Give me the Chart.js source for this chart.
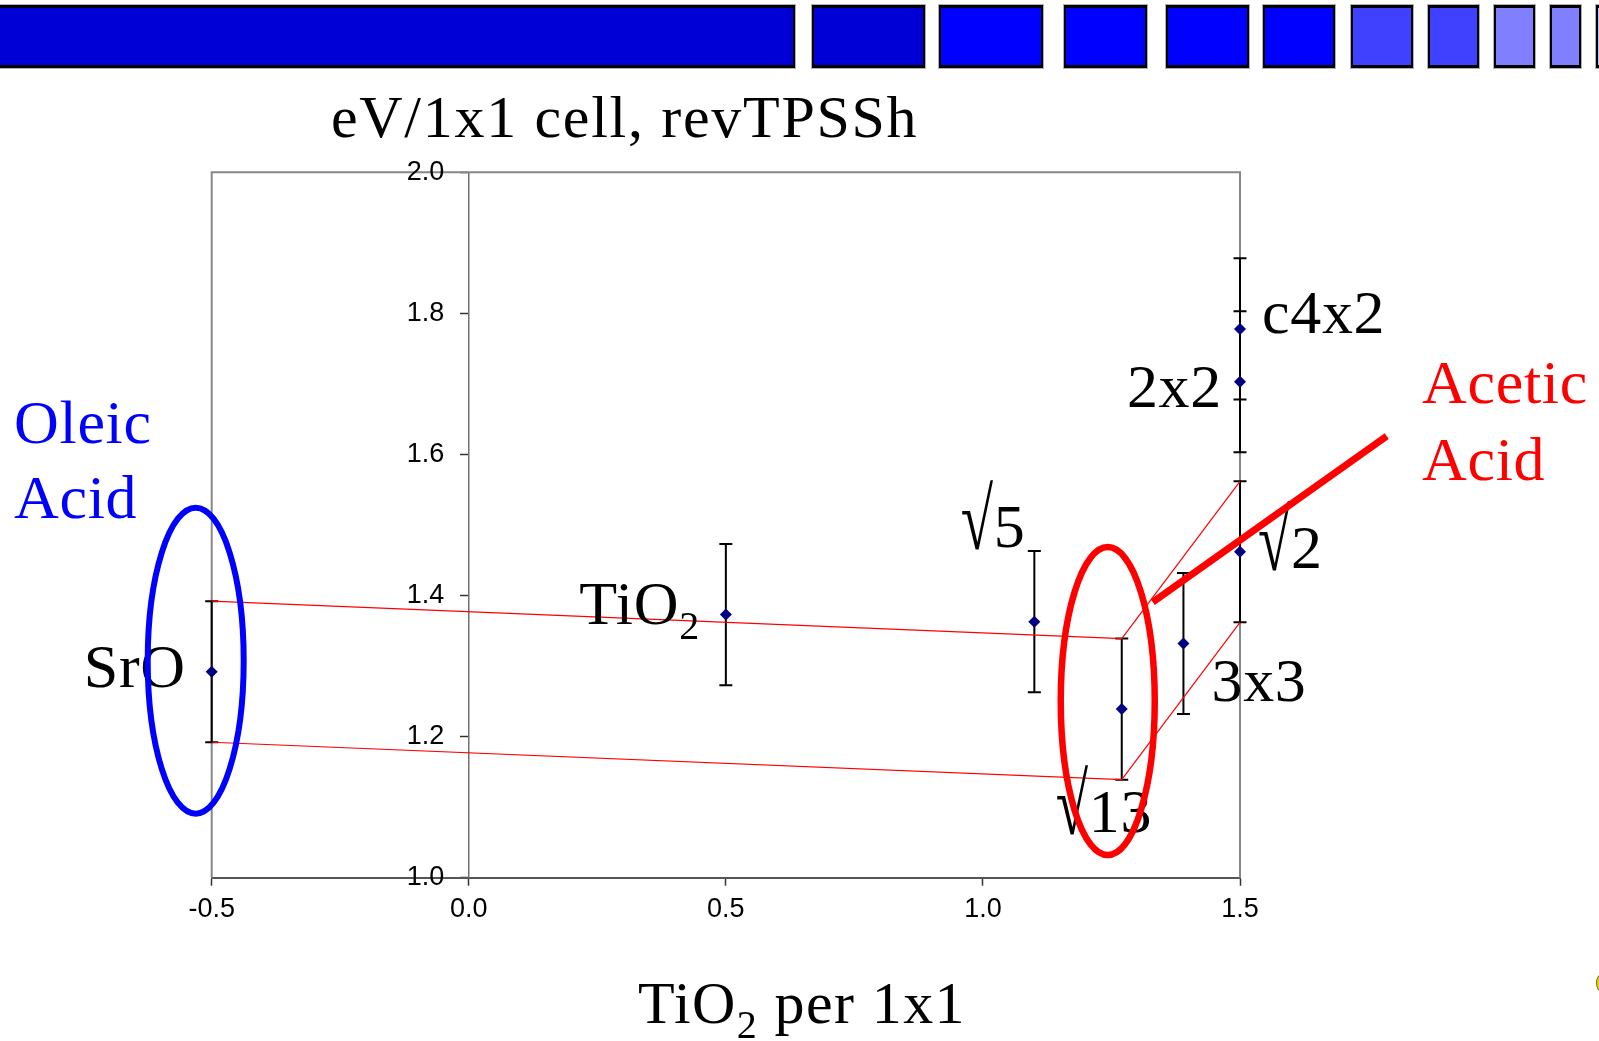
<!DOCTYPE html>
<html>
<head>
<meta charset="utf-8">
<title>Surface energy per 1x1 cell</title>
<script src="https://cdn.jsdelivr.net/npm/chart.js@4.4.1/dist/chart.umd.min.js"></script>
<style>
  html, body { margin: 0; padding: 0; background: #ffffff; }
  #stage { position: relative; width: 1599px; height: 1041px; overflow: hidden; background: #ffffff; }
  #plotBox { position: absolute; left: 0; top: 0; width: 1599px; height: 1041px; }
  .band { position: absolute; top: 5px; height: 63px; box-sizing: border-box;
          border: 2px solid #000; border-top-width: 3px; border-bottom-width: 3px;
          box-shadow: 0 0 0 1px #b0b0b0; }
  #knob { position: absolute; left: 1596px; top: 974px; width: 9px; height: 16px;
          border-radius: 50%; background: #e6d200; border: 1px solid #6a6a40; }
</style>
</head>
<body>
<div id="stage">
  <div class="band" style="left:-4px; width:799px; background:#0000d6"></div>
  <div class="band" style="left:812px; width:113px; background:#0000d6"></div>
  <div class="band" style="left:939px; width:104px; background:#0000ff"></div>
  <div class="band" style="left:1064px; width:83px; background:#0000ff"></div>
  <div class="band" style="left:1166px; width:83px; background:#0000ff"></div>
  <div class="band" style="left:1263px; width:72px; background:#0000ff"></div>
  <div class="band" style="left:1351px; width:62px; background:#4040ff"></div>
  <div class="band" style="left:1428px; width:51px; background:#4040ff"></div>
  <div class="band" style="left:1494px; width:41px; background:#8080ff"></div>
  <div class="band" style="left:1550px; width:31px; background:#8080ff"></div>
  <div class="band" style="left:1596px; width:30px; background:#c0c0ff"></div>
  <div id="plotBox"><canvas id="plot"></canvas></div>
  <div id="knob"></div>
</div>
<script>
// Surface structures and their computed energies (eV per 1x1 cell, revTPSSh)
const categories    = ['SrO', 'TiO₂', '√5', '√13', '3x3', '√2', '2x2', 'c4x2'];
const tio2PerCell   = [-0.5, 0.5, 1.1, 1.27, 1.39, 1.5, 1.5, 1.5];
const energyPerCell = [1.292, 1.373, 1.363, 1.239, 1.332, 1.462, 1.703, 1.778];
const energyError   = [0.1, 0.1, 0.1, 0.1, 0.1, 0.1, 0.1, 0.1];

// Axis tick labels
const xTickLabels = ['-0.5', '0.0', '0.5', '1.0', '1.5'];
const yTickLabels = ['1.0', '1.2', '1.4', '1.6', '1.8', '2.0'];

// Structures joined by the red stability envelope
const envelopeMembers = ['SrO', '√13', '√2'];

// Text strings
const titleText = 'eV/1x1 cell, revTPSSh';
const xTitleText = 'TiO₂ per 1x1';
const oleicText = ['Oleic', 'Acid'];
const aceticText = ['Acetic', 'Acid'];

// ---- drawing options (placement and styles) ----
const SERIF = '"Liberation Serif", "Times New Roman", serif';
const SANS = '"Liberation Sans", Arial, sans-serif';
const labelStyle = { font: '62px ' + SERIF, sub: '40px ' + SERIF, drop: 15, spacing: '0.7px' };
const titleStyle = { font: '60px ' + SERIF, sub: '40px ' + SERIF, drop: 15, spacing: '1.7px' };
const xTitleStyle = { font: '60px ' + SERIF, sub: '40px ' + SERIF, drop: 15, spacing: '1.4px' };
const tickFont = { family: SANS, size: 27 };
const radicalScale = { sx: 0.95, sy: 1.4 };

const labelPlacement = {
  'SrO':  { dx: -26, dy: 15,  align: 'right' },
  'TiO₂': { dx: -26, dy: 9,   align: 'right' },
  '√5':   { dx: -9,  dy: -75, align: 'right' },
  '√13':  { dx: -66, dy: 123, align: 'left' },
  '3x3':  { dx: 28,  dy: 57,  align: 'left' },
  '√2':   { dx: 18,  dy: 16,  align: 'left' },
  '2x2':  { dx: -18, dy: 25,  align: 'right' },
  'c4x2': { dx: 22,  dy: 4,   align: 'left' }
};

const rings = [
  { around: 'SrO', dx: -16, dy: -11, rx: 48, ry: 153, color: '#0000ff', width: 6 },
  { around: '√13', dx: -14, dy: -8,  rx: 47, ry: 154, color: '#ff0000', width: 6.5 }
];
const pointer = { from: '√13', x1: 31, y1: -107, x2: 265, y2: -273, color: '#ff0000', width: 7 };

const SUBS = { '₀':'0','₁':'1','₂':'2','₃':'3','₄':'4','₅':'5','₆':'6','₇':'7','₈':'8','₉':'9' };

// Splits a string into plain runs, subscript digits and radical signs
function tokenize(text) {
  const out = [];
  for (const ch of text) {
    const kind = SUBS[ch] ? 'sub' : ch === '√' ? 'root' : 'plain';
    const t = SUBS[ch] || ch;
    const last = out[out.length - 1];
    if (last && last.kind === kind && kind !== 'root') last.text += t;
    else out.push({ kind, text: t });
  }
  return out;
}

// Draws text with subscripts and a tall radical sign
function drawRichText(ctx, text, x, y, align, style) {
  const parts = tokenize(text);
  ctx.letterSpacing = style.spacing || '0px';
  let total = 0;
  parts.forEach(p => {
    ctx.font = p.kind === 'sub' ? style.sub : style.font;
    p.w = ctx.measureText(p.text).width * (p.kind === 'root' ? radicalScale.sx : 1);
    total += p.w;
  });
  let cx = align === 'right' ? x - total : align === 'center' ? x - total / 2 : x;
  ctx.textAlign = 'left';
  ctx.textBaseline = 'alphabetic';
  parts.forEach(p => {
    ctx.font = p.kind === 'sub' ? style.sub : style.font;
    if (p.kind === 'root') {
      ctx.save();
      ctx.translate(cx, y + 2);
      ctx.scale(radicalScale.sx, radicalScale.sy);
      ctx.fillText(p.text, 0, 0);
      ctx.restore();
    } else {
      ctx.fillText(p.text, cx, y + (p.kind === 'sub' ? style.drop : 0));
    }
    cx += p.w;
  });
  ctx.letterSpacing = '0px';
}

function pointPixel(chart, name) {
  const i = categories.indexOf(name);
  return {
    x: chart.scales.x.getPixelForValue(tio2PerCell[i]),
    y: chart.scales.y.getPixelForValue(energyPerCell[i])
  };
}

// Vertical error bars with caps, under the markers
const errorBarPlugin = {
  id: 'errorBars',
  beforeDatasetsDraw(chart) {
    const { ctx, scales: { x, y } } = chart;
    ctx.save();
    ctx.strokeStyle = '#000000';
    ctx.lineWidth = 2;
    const cap = 6.5;
    categories.forEach((c, i) => {
      const px = x.getPixelForValue(tio2PerCell[i]);
      const top = y.getPixelForValue(energyPerCell[i] + energyError[i]);
      const bot = y.getPixelForValue(energyPerCell[i] - energyError[i]);
      ctx.beginPath();
      ctx.moveTo(px, top); ctx.lineTo(px, bot);
      ctx.moveTo(px - cap, top); ctx.lineTo(px + cap, top);
      ctx.moveTo(px - cap, bot); ctx.lineTo(px + cap, bot);
      ctx.stroke();
    });
    ctx.restore();
  }
};

// Grey plot frame and the value labels of the y axis, which sits at x = 0
const framePlugin = {
  id: 'frame',
  beforeDatasetsDraw(chart) {
    const { ctx, chartArea: a, scales: { x, y } } = chart;
    ctx.save();
    ctx.strokeStyle = '#878787';
    ctx.lineWidth = 2;
    ctx.beginPath();
    ctx.moveTo(a.left, a.bottom);
    ctx.lineTo(a.left, a.top);
    ctx.lineTo(a.right, a.top);
    ctx.lineTo(a.right, a.bottom);
    ctx.stroke();

    const axisX = x.getPixelForValue(0);
    const gap = y.options.grid.tickLength + 16.5;
    ctx.fillStyle = '#000000';
    ctx.font = tickFont.size + 'px ' + tickFont.family;
    ctx.textAlign = 'right';
    ctx.textBaseline = 'middle';
    y.ticks.forEach((t, i) => {
      ctx.fillText(yTickLabels[i], axisX - gap, y.getPixelForValue(t.value));
    });
    ctx.restore();
  }
};

// Structure names, titles and the adsorbate callouts
const notesPlugin = {
  id: 'notes',
  afterDraw(chart) {
    const ctx = chart.ctx;
    ctx.save();
    ctx.fillStyle = '#000000';
    categories.forEach(name => {
      const p = pointPixel(chart, name);
      const l = labelPlacement[name];
      drawRichText(ctx, name, p.x + l.dx, p.y + l.dy, l.align, labelStyle);
    });

    // titles
    drawRichText(ctx, titleText, 331, 137, 'left', titleStyle);
    drawRichText(ctx, xTitleText, 638, 1023, 'left', xTitleStyle);

    // adsorbate group names
    ctx.fillStyle = '#0000ff';
    oleicText.forEach((t, k) => drawRichText(ctx, t, 14, 443 + k * 75, 'left', labelStyle));
    ctx.fillStyle = '#ff0000';
    aceticText.forEach((t, k) => drawRichText(ctx, t, 1422, 403 + k * 76.5, 'left', labelStyle));

    // rings around the structures each acid stabilises
    rings.forEach(r => {
      const p = pointPixel(chart, r.around);
      ctx.beginPath();
      ctx.ellipse(p.x + r.dx, p.y + r.dy, r.rx, r.ry, 0, 0, Math.PI * 2);
      ctx.strokeStyle = r.color;
      ctx.lineWidth = r.width;
      ctx.stroke();
    });

    // pointer from the acetic acid note
    const q = pointPixel(chart, pointer.from);
    ctx.beginPath();
    ctx.moveTo(q.x + pointer.x1, q.y + pointer.y1);
    ctx.lineTo(q.x + pointer.x2, q.y + pointer.y2);
    ctx.strokeStyle = pointer.color;
    ctx.lineWidth = pointer.width;
    ctx.stroke();
    ctx.restore();
  }
};

function envelope(sign) {
  return envelopeMembers.map(name => {
    const i = categories.indexOf(name);
    return { x: tio2PerCell[i], y: energyPerCell[i] + sign * energyError[i] };
  });
}

const points = categories.map((c, i) => ({ x: tio2PerCell[i], y: energyPerCell[i] }));

new Chart(document.getElementById('plot'), {
  type: 'scatter',
  data: {
    datasets: [
      {
        label: 'revTPSSh',
        data: points,
        pointStyle: 'rectRot',
        pointRadius: 6,
        pointBackgroundColor: '#000080',
        pointBorderColor: '#000080',
        pointBorderWidth: 0,
        clip: false
      },
      {
        label: 'upper envelope',
        data: envelope(1),
        showLine: true,
        borderColor: '#ff0000',
        borderWidth: 1.2,
        pointRadius: 0,
        clip: false
      },
      {
        label: 'lower envelope',
        data: envelope(-1),
        showLine: true,
        borderColor: '#ff0000',
        borderWidth: 1.2,
        pointRadius: 0,
        clip: false
      }
    ]
  },
  options: {
    responsive: true,
    maintainAspectRatio: false,
    animation: false,
    events: [],
    layout: { padding: { left: 211.7, right: 359, top: 172.3, bottom: 123.3 } },
    plugins: { legend: { display: false }, tooltip: { enabled: false }, title: { display: false } },
    scales: {
      x: {
        type: 'linear',
        min: -0.5,
        max: 1.5,
        afterFit(scale) { scale.height = 40; },
        afterBuildTicks(scale) {
          scale.ticks = xTickLabels.map(t => ({ value: parseFloat(t) }));
        },
        ticks: {
          callback: (v, i) => xTickLabels[i],
          font: tickFont,
          color: '#000000',
          padding: 8,
          maxRotation: 0
        },
        grid: { drawOnChartArea: false, drawTicks: true, tickLength: 8, tickColor: '#333333', tickWidth: 1.5 },
        border: { display: true, color: '#555555', width: 2 }
      },
      y: {
        type: 'linear',
        min: 1.0,
        max: 2.0,
        position: { x: 0 },
        afterBuildTicks(scale) {
          scale.ticks = yTickLabels.map(t => ({ value: parseFloat(t) }));
        },
        ticks: { display: false },
        grid: { drawOnChartArea: false, drawTicks: true, tickLength: 8, tickColor: '#333333', tickWidth: 1.5 },
        border: { display: true, color: '#707070', width: 1.5 }
      }
    }
  },
  plugins: [framePlugin, errorBarPlugin, notesPlugin]
});
</script>
</body>
</html>
